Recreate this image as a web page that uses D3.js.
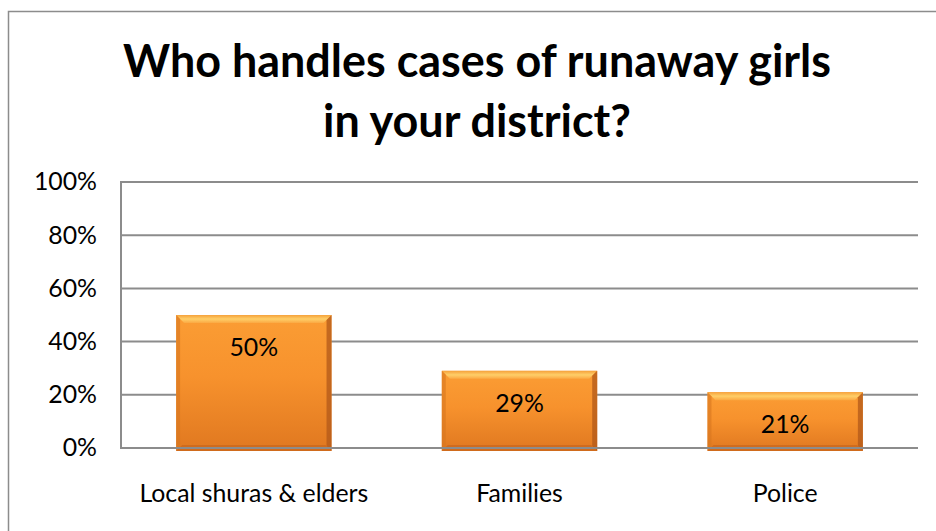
<!DOCTYPE html>
<html>
<head>
<meta charset="utf-8">
<script src="https://cdn.jsdelivr.net/npm/d3@7/dist/d3.min.js"></script>
<style>
  html, body { margin: 0; padding: 0; background: #fff; }
  svg { display: block; }
  text { font-family: Lato, "Open Sans", sans-serif; fill: #000; }
</style>
</head>
<body>
<svg id="chart" width="936" height="531"></svg>
<script>
// Survey answers
const titleLines = ["Who handles cases of runaway girls", "in your district?"];
const categories = ["Local shuras & elders", "Families", "Police"];
const shares = [50, 29, 21];
const yTicks = [0, 20, 40, 60, 80, 100];

const W = 936, H = 531;
const plot = { left: 121, right: 918, top: 182, bottom: 448 };

const svg = d3.select("#chart");

// Outer frame of the chart area
svg.append("rect")
  .attr("x", 8.5).attr("y", 11.5)
  .attr("width", W + 10).attr("height", H + 10)
  .attr("fill", "#fff")
  .attr("stroke", "#8c8c8c").attr("stroke-width", 1.5);

// Title, fitted to its line width
const title = svg.append("g");
titleLines.forEach((line, i) => {
  title.append("text")
    .attr("x", 477).attr("y", 77 + i * 60)
    .attr("text-anchor", "middle")
    .style("font-weight", "bold")
    .style("font-size", "40px")
    .text(line);
});
const firstLine = title.select("text").node();
const fitScale = 708 / firstLine.getComputedTextLength();
title.selectAll("text").style("font-size", (40 * fitScale) + "px");

// Body text size, fitted on the longest category name
const probe = svg.append("text").style("font-size", "20px").text(categories[0]);
const bodySize = 20 * 229 / probe.node().getComputedTextLength();
probe.remove();

const x = d3.scaleBand()
  .domain(categories)
  .range([plot.left, plot.right])
  .paddingInner(0.415)
  .paddingOuter(0.2075);

const y = d3.scaleLinear()
  .domain([0, 100])
  .range([plot.bottom, plot.top]);

// Gridlines
svg.append("g")
  .selectAll("line")
  .data(yTicks.filter(d => d > 0))
  .join("line")
  .attr("x1", plot.left).attr("x2", plot.right)
  .attr("y1", d => y(d)).attr("y2", d => y(d))
  .attr("stroke", "#8c8c8c").attr("stroke-width", 2);

// Y axis labels
const yAxis = svg.append("g")
  .attr("transform", `translate(${plot.left},0)`)
  .call(d3.axisLeft(y).tickValues(yTicks).tickFormat(d => d + "%").tickSize(0).tickPadding(24));
yAxis.select(".domain").remove();
yAxis.selectAll("text")
  .style("font-size", bodySize + "px")
  .style("font-family", "Lato, sans-serif")
  .attr("fill", "#000");

// Bar shading
const defs = svg.append("defs");
const grad = defs.append("linearGradient")
  .attr("id", "barFill").attr("x1", 0).attr("y1", 0).attr("x2", 0).attr("y2", 1);
grad.append("stop").attr("offset", "0%").attr("stop-color", "#fb9d34");
grad.append("stop").attr("offset", "45%").attr("stop-color", "#f7922d");
grad.append("stop").attr("offset", "100%").attr("stop-color", "#e07820");

const topGrad = defs.append("linearGradient")
  .attr("id", "topFill").attr("x1", 0).attr("y1", 0).attr("x2", 0).attr("y2", 1);
topGrad.append("stop").attr("offset", "0%").attr("stop-color", "#f5a23c");
topGrad.append("stop").attr("offset", "50%").attr("stop-color", "#ffd46e");
topGrad.append("stop").attr("offset", "100%").attr("stop-color", "#fbaa45");

const bevel = 8;
const bars = svg.append("g")
  .selectAll("g")
  .data(categories.map((c, i) => ({ c, v: shares[i] })))
  .join("g");

bars.append("rect")
  .attr("x", d => x(d.c))
  .attr("y", d => y(d.v))
  .attr("width", x.bandwidth())
  .attr("height", d => y(0) - y(d.v) + 3)
  .attr("fill", "url(#barFill)");

// Top bevel highlight
bars.append("path")
  .attr("d", d => {
    const x0 = x(d.c), x1 = x0 + x.bandwidth(), t = y(d.v);
    return `M${x0},${t}L${x1},${t}L${x1 - bevel},${t + bevel}L${x0 + bevel},${t + bevel}Z`;
  })
  .attr("fill", "url(#topFill)").attr("opacity", 0.9);

// Right edge shadow
bars.append("path")
  .attr("d", d => {
    const x1 = x(d.c) + x.bandwidth(), t = y(d.v), b = y(0) + 3;
    return `M${x1},${t}L${x1},${b}L${x1 - 5},${b - 5}L${x1 - 5},${t + 5}Z`;
  })
  .attr("fill", "#b2581a").attr("opacity", 0.75);

// Left edge
bars.append("path")
  .attr("d", d => {
    const x0 = x(d.c), t = y(d.v), b = y(0) + 3;
    return `M${x0},${t}L${x0 + 4},${t + 4}L${x0 + 4},${b - 4}L${x0},${b}Z`;
  })
  .attr("fill", "#d7761f").attr("opacity", 0.6);

// Bottom edge
bars.append("path")
  .attr("d", d => {
    const x0 = x(d.c), x1 = x0 + x.bandwidth(), b = y(0) + 3;
    return `M${x0},${b}L${x1},${b}L${x1 - 6},${b - 6}L${x0 + 6},${b - 6}Z`;
  })
  .attr("fill", "#c9651b").attr("opacity", 0.7);

// Baseline over the bars
svg.append("line")
  .attr("x1", plot.left).attr("x2", plot.right)
  .attr("y1", y(0)).attr("y2", y(0))
  .attr("stroke", "#8c8c8c").attr("stroke-width", 2);

// Vertical axis line
svg.append("line")
  .attr("x1", plot.left).attr("x2", plot.left)
  .attr("y1", plot.top - 1).attr("y2", plot.bottom + 1)
  .attr("stroke", "#8c8c8c").attr("stroke-width", 2);

// Value labels
bars.append("text")
  .attr("x", d => x(d.c) + x.bandwidth() / 2)
  .attr("y", d => y(d.v) + 31)
  .attr("text-anchor", "middle")
  .attr("dominant-baseline", "central")
  .style("font-size", bodySize + "px")
  .text(d => d.v + "%");

// Category labels
svg.append("g")
  .selectAll("text")
  .data(categories)
  .join("text")
  .attr("x", d => x(d) + x.bandwidth() / 2)
  .attr("y", 492)
  .attr("text-anchor", "middle")
  .attr("dominant-baseline", "central")
  .style("font-size", bodySize + "px")
  .text(d => d);
</script>
</body>
</html>
